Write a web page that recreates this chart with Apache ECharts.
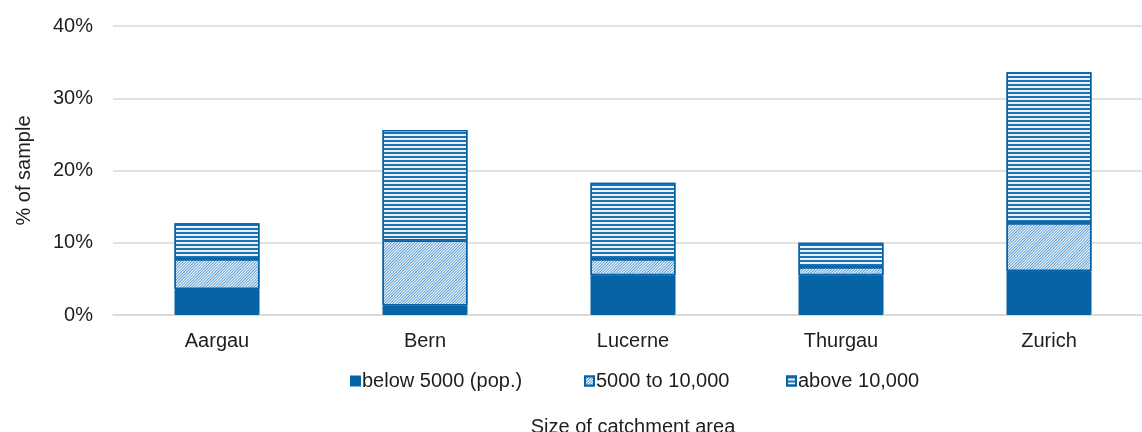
<!DOCTYPE html>
<html>
<head>
<meta charset="utf-8">
<script src="https://cdn.jsdelivr.net/npm/echarts@6/dist/echarts.min.js"></script>
<style>
  html, body { margin: 0; padding: 0; background: #fff; }
  #chart { width: 1142px; height: 432px; }
</style>
</head>
<body>
<div id="chart"></div>
<script>
// Share of sample by canton, split by size of catchment area (percent)
const cantons = ['Aargau', 'Bern', 'Lucerne', 'Thurgau', 'Zurich'];
const below5000 = [3.6, 1.3, 5.5, 5.5, 6.1];
const from5000to10000 = [4.1, 9.0, 2.2, 1.1, 6.6];
const above10000 = [5.0, 15.3, 10.6, 3.4, 20.9];
const seriesNames = ['below 5000 (pop.)', '5000 to 10,000', 'above 10,000'];
const yTicks = [0, 10, 20, 30, 40];

const BLUE = '#0563a6';
const FONT = '"Liberation Sans", Arial, Helvetica, sans-serif';
const TEXT = '#1e1e1e';
const FS = 20;

// fine diagonal hatch for the middle band
const hatch = {
  symbol: 'rect',
  symbolSize: 1,
  color: '#5a9bd3',
  backgroundColor: '#ffffff',
  dashArrayX: [1, 0],
  dashArrayY: [1, 1],
  rotation: -Math.PI / 4
};
// horizontal stripes for the top band
const stripes = {
  symbol: 'rect',
  symbolSize: 1,
  color: '#1f72b4',
  backgroundColor: '#e8f1f9',
  dashArrayX: [1, 0],
  dashArrayY: [2, 2],
  rotation: 0
};

function barSeries(name, data, decal) {
  return {
    name: name,
    type: 'bar',
    stack: 'share',
    data: data,
    barWidth: 85,
    itemStyle: decal
      ? { color: '#ffffff', borderColor: BLUE, borderWidth: 1.5, decal: decal }
      : { color: BLUE, borderColor: BLUE, borderWidth: 1 },
    emphasis: { disabled: true }
  };
}

function legendAt(name, left) {
  return {
    data: [{ name: name, icon: 'rect' }],
    left: left,
    top: 366,
    itemWidth: 9,
    itemHeight: 9,
    itemGap: 0,
    selectedMode: false,
    textStyle: { fontFamily: FONT, fontSize: FS, color: TEXT, padding: [0, 0, 0, -3] }
  };
}

const chart = echarts.init(document.getElementById('chart'), null, { renderer: 'canvas' });
chart.setOption({
  animation: false,
  backgroundColor: '#ffffff',
  grid: {
    left: 113, top: 26, width: 1040, height: 289,
    containLabel: false,
    outerBoundsMode: 'none'
  },
  legend: [
    legendAt(seriesNames[0], 345),
    legendAt(seriesNames[1], 579),
    legendAt(seriesNames[2], 781)
  ],
  xAxis: {
    type: 'category',
    data: cantons,
    name: 'Size of catchment area',
    nameLocation: 'middle',
    nameGap: 102,
    nameTextStyle: { fontFamily: FONT, fontSize: FS, color: TEXT, verticalAlign: 'top' },
    axisLine: { show: true, lineStyle: { color: '#d9d9d9', width: 1.5 } },
    axisTick: { show: false },
    axisLabel: { fontFamily: FONT, fontSize: FS, color: TEXT, margin: 16 }
  },
  yAxis: {
    type: 'value',
    min: yTicks[0],
    max: yTicks[yTicks.length - 1],
    interval: 10,
    name: '% of sample',
    nameLocation: 'middle',
    nameGap: 79,
    nameTextStyle: { fontFamily: FONT, fontSize: FS, color: TEXT },
    axisLine: { show: false },
    axisTick: { show: false },
    splitLine: { lineStyle: { color: '#d9d9d9', width: 1.5 } },
    axisLabel: { fontFamily: FONT, fontSize: FS, color: TEXT, margin: 20, formatter: '{value}%' }
  },
  series: [
    barSeries(seriesNames[0], below5000, null),
    barSeries(seriesNames[1], from5000to10000, hatch),
    barSeries(seriesNames[2], above10000, stripes)
  ]
});
</script>
</body>
</html>
